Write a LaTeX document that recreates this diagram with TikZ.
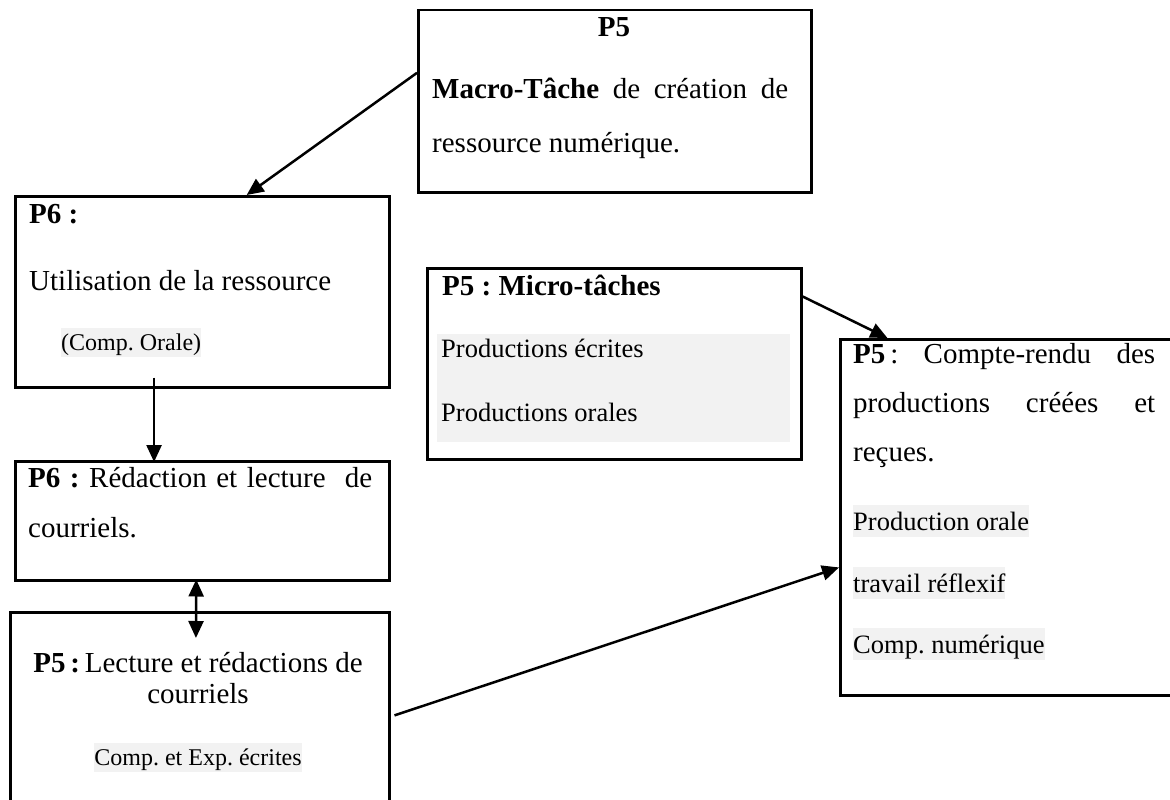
\documentclass[tikz,border=0pt]{standalone}
\usepackage{fontspec}
\setmainfont{Liberation Serif}
\usetikzlibrary{arrows.meta,calc}
\definecolor{hlgray}{HTML}{F2F2F2}
\frenchspacing
\tikzset{
  box/.style={draw=black, line width=2.5pt, rectangle, inner sep=0pt, anchor=north west},
  txt/.style={inner sep=0pt, anchor=base west, font=\fontsize{29}{35}\selectfont},
  mtx/.style={inner sep=0pt, anchor=base west, font=\fontsize{26.5}{32}\selectfont},
  stx/.style={inner sep=0pt, anchor=base west, font=\fontsize{24}{29}\selectfont},
  hlm/.style={fill=hlgray, text height=25pt, text depth=7pt},
  hls/.style={fill=hlgray, text height=22pt, text depth=7pt},
  arr/.style={line width=2.5pt, -{Triangle[length=17pt,width=15pt]}},
  darr/.style={line width=2.5pt, {Triangle[length=17pt,width=15pt]}-{Triangle[length=17pt,width=15pt]}}
}
\begin{document}
\begin{tikzpicture}[x=1pt,y=-1pt]
\useasboundingbox (0,0) rectangle (1170,800);
\clip (0,0) rectangle (1170,800);
\fill[white] (0,0) rectangle (1170,800);

% boxes
\node[box, minimum width=393pt, minimum height=182pt] (A) at (417,9) {};
\node[box, minimum width=374pt, minimum height=191pt] (B) at (14,195) {};
\node[box, minimum width=374pt, minimum height=119pt] (C) at (14,460) {};
\node[box, minimum width=379pt, minimum height=199pt] (D) at (9,611) {};
\node[box, minimum width=374pt, minimum height=191pt] (E) at (426,267) {};
\node[box, minimum width=341pt, minimum height=356pt] (F) at (839,338) {};
\node[fill=hlgray, inner sep=0pt, anchor=north west, minimum width=353pt, minimum height=108pt] (Eg) at (437,334) {};

% box A text
\node[txt, anchor=base] (a1) at (614,37) {\textbf{P5}};
\node[txt] (a2) at (432,99) {\makebox[356pt][s]{\textbf{Macro-Tâche} de création de}};
\node[txt] (a3) at (432,152) {ressource numérique.};

% box B text
\node[txt] (b1) at (29,223) {\textbf{P6 :}};
\node[txt] (b2) at (29,290) {Utilisation de la ressource};
\node[stx, hls] (b3) at (61,350) {(Comp. Orale)};

% box C text
\node[txt] (c1) at (28,487) {\makebox[344pt][s]{\textbf{P6 :} Rédaction et lecture \ de}};
\node[txt] (c2) at (28,537) {courriels.};

% box D text
\node[txt, anchor=base] (d1) at (198,672) {\textbf{P5\,:}\,Lecture et rédactions de};
\node[txt, anchor=base] (d2) at (198,703) {courriels};
\node[stx, hls, anchor=base] (d3) at (198,765) {Comp. et Exp. écrites};

% box E text
\node[txt] (e1) at (442,295) {\textbf{P5 : Micro-tâches}};
\node[mtx] (e2) at (441,357) {Productions écrites};
\node[mtx] (e3) at (441,421) {Productions orales};

% box F text
\node[txt] (f1) at (853,363) {\makebox[302pt][s]{\textbf{P5}\,: Compte-rendu des}};
\node[txt] (f2) at (853,412) {\makebox[302pt][s]{productions créées et}};
\node[txt] (f3) at (853,461) {reçues.};
\node[mtx, hlm] (f4) at (853,530) {Production orale};
\node[mtx, hlm] (f5) at (853,592) {travail réflexif};
\node[mtx, hlm] (f6) at (853,653) {Comp. numérique};

% connectors
\draw[arr] ($(A.north west)!0.346!(A.south west)$) -- ($(B.north west)!0.618!(B.north east)$);
\draw[arr] ($(B.south west)!0.372!(B.south east)+(0,-11)$) -- ($(C.north west)!0.372!(C.north east)+(0,2)$);
\draw[darr] ($(C.south west)!0.484!(C.south east)+(0,-2)$) -- ($(D.north west)!0.49!(D.north east)+(0,27)$);
\draw[arr] ($(E.north east)!0.152!(E.south east)$) -- ($(F.north west)!0.141!(F.north east)$);
\draw[arr] ($(D.north east)!0.518!(D.south east)+(4,0)$) -- ($(F.north west)!0.64!(F.south west)$);
\end{tikzpicture}
\end{document}
